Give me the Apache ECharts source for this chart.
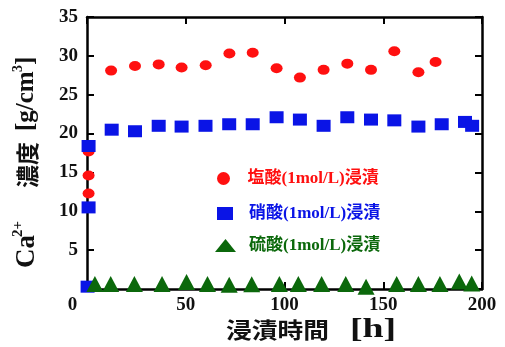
<!DOCTYPE html>
<html><head><meta charset="utf-8">
<script src="https://cdn.jsdelivr.net/npm/echarts@6/dist/echarts.min.js"></script>
<style>html,body{margin:0;padding:0;background:#fff}#c{width:505px;height:347px}</style>
</head><body><div id="c"></div>
<script>
const seriesNames = ['塩酸(1mol/L)浸漬', '硝酸(1mol/L)浸漬', '硫酸(1mol/L)浸漬'];
const xTicks = [0, 50, 100, 150, 200];
const yTicks = [0, 5, 10, 15, 20, 25, 30, 35];

const hclX = [0.8, 0.8, 0.8, 12.2, 24.3, 36.3, 47.9, 60.1, 72.1, 83.9, 96.0, 107.8, 119.8, 131.8, 143.8, 155.6, 167.8, 176.5];
const hclY = [17.7, 14.6, 12.3, 28.1, 28.7, 28.9, 28.5, 28.8, 30.3, 30.4, 28.4, 27.2, 28.2, 29.0, 28.2, 30.6, 27.9, 29.2];

const hno3X = [0.8, 0.8, 0.3, 12.5, 24.3, 36.3, 47.9, 60.0, 72.0, 83.9, 96.0, 107.8, 119.8, 131.8, 143.8, 155.6, 167.8, 179.6, 191.4, 195.0];
const hno3Y = [18.4, 10.5, 0.3, 20.5, 20.3, 21.0, 20.9, 21.0, 21.2, 21.2, 22.1, 21.8, 21.0, 22.1, 21.8, 21.7, 20.9, 21.2, 21.5, 21.0];

const h2so4X = [4, 12, 24, 38, 50.4, 61, 72, 83.4, 97.4, 107, 118.8, 131, 141.3, 156.8, 167.8, 178.7, 188.5, 194.8];
const h2so4Y = [0.65, 0.65, 0.65, 0.65, 0.9, 0.65, 0.55, 0.6, 0.65, 0.65, 0.65, 0.65, 0.3, 0.65, 0.65, 0.65, 0.95, 0.7];

const colors = ['#ff1010', '#0a14e6', '#0b680b'];
const pair = (xs, ys) => xs.map((x, i) => [x, ys[i]]);

const tickFont = () => ({fontFamily: '"Liberation Serif", "Times New Roman", serif', fontWeight: 'bold', fontSize: 19, color: '#111'});
const legendFont = () => ({fontFamily: '"Liberation Serif", "Noto Sans CJK JP", serif', fontWeight: 'bold', fontSize: 17});
const serifB = '"Liberation Serif", serif';
const cjkB = '"Noto Sans CJK JP", sans-serif';

const chart = echarts.init(document.getElementById('c'), null, {renderer: 'canvas'});
chart.setOption({
  animation: false,
  grid: {left: 87, right: 23, top: 17, bottom: 58, containLabel: false},
  xAxis: [
    {type: 'value', min: xTicks[0], max: xTicks[xTicks.length - 1], interval: 50, position: 'bottom',
     axisLine: {show: true, lineStyle: {color: '#000', width: 2.5}},
     axisTick: {inside: true, length: 7, lineStyle: {width: 2, color: '#000'}},
     axisLabel: Object.assign({margin: 7,
       formatter: v => (v === 0 ? '{z|0}' : String(v)),
       rich: {z: Object.assign({padding: [0, 29, 0, 0]}, tickFont())}}, tickFont()),
     splitLine: {show: false}},
    {type: 'value', min: xTicks[0], max: xTicks[xTicks.length - 1], interval: 50, position: 'top',
     axisLine: {show: true, onZero: false, lineStyle: {color: '#000', width: 2.5}},
     axisTick: {inside: true, length: 7, lineStyle: {width: 2, color: '#000'}},
     axisLabel: {show: false}, splitLine: {show: false}}
  ],
  yAxis: [
    {type: 'value', min: yTicks[0], max: yTicks[yTicks.length - 1], interval: 5, position: 'left',
     axisLine: {show: true, lineStyle: {color: '#000', width: 2.5}},
     axisTick: {inside: true, length: 7, lineStyle: {width: 2, color: '#000'}},
     axisLabel: Object.assign({margin: 9, formatter: v => (v === 0 ? '' : String(v))}, tickFont()),
     splitLine: {show: false}},
    {type: 'value', min: yTicks[0], max: yTicks[yTicks.length - 1], interval: 5, position: 'right',
     axisLine: {show: true, onZero: false, lineStyle: {color: '#000', width: 2.5}},
     axisTick: {inside: true, length: 7, lineStyle: {width: 2, color: '#000'}},
     axisLabel: {show: false}, splitLine: {show: false}}
  ],
  legend: [
    {data: [seriesNames[0]], orient: 'vertical', left: 212, top: 165, itemWidth: 16, itemHeight: 13, symbolKeepAspect: false,
     textStyle: Object.assign({color: colors[0], padding: [0, 0, 0, 11]}, legendFont())},
    {data: [seriesNames[1]], orient: 'vertical', left: 212, top: 200, itemWidth: 16, itemHeight: 13, symbolKeepAspect: false,
     textStyle: Object.assign({color: colors[1], padding: [0, 0, 0, 11]}, legendFont())},
    {data: [seriesNames[2]], orient: 'vertical', left: 210, top: 232, itemWidth: 21, itemHeight: 13, symbolKeepAspect: false,
     textStyle: Object.assign({color: colors[2], padding: [0, 0, 0, 8]}, legendFont())}
  ],
  series: [
    {name: seriesNames[0], type: 'scatter', data: pair(hclX, hclY), symbol: 'circle', symbolSize: [12, 10],
     itemStyle: {color: colors[0], opacity: 1}, z: 3},
    {name: seriesNames[1], type: 'scatter', data: pair(hno3X, hno3Y), symbol: 'rect', symbolSize: [14, 12],
     itemStyle: {color: colors[1], opacity: 1}, z: 4},
    {name: seriesNames[2], type: 'scatter', data: pair(h2so4X, h2so4Y), symbol: 'triangle', symbolSize: [17, 16],
     itemStyle: {color: colors[2], opacity: 1}, z: 5}
  ],
  graphic: [
    {type: 'text', x: 226, y: 330, scaleX: 1.17, style: {
      text: '浸漬時間', font: 'bold 22px ' + cjkB, fill: '#111', textAlign: 'left', textVerticalAlign: 'middle'}},
    {type: 'text', x: 350, y: 330, scaleX: 1.4, style: {
      text: '[h]', font: 'bold 27px ' + serifB, fill: '#111', textAlign: 'left', textVerticalAlign: 'middle'}},
    {type: 'group', x: 27, y: 268, rotation: Math.PI / 2, children: [
      {type: 'text', x: 0, y: 0, style: {text: 'Ca', font: 'bold 27px ' + serifB, fill: '#111', textAlign: 'left', textVerticalAlign: 'middle'}},
      {type: 'text', x: 31, y: -9, style: {text: '2+', font: 'bold 15px ' + serifB, fill: '#111', textAlign: 'left', textVerticalAlign: 'middle'}},
      {type: 'text', x: 80, y: 0, style: {text: '濃度', font: 'bold 23px ' + cjkB, fill: '#111', textAlign: 'left', textVerticalAlign: 'middle'}},
      {type: 'text', x: 137, y: 0, style: {text: '[g/cm', font: 'bold 25px ' + serifB, fill: '#111', textAlign: 'left', textVerticalAlign: 'middle'}},
      {type: 'text', x: 196, y: -9, style: {text: '3', font: 'bold 14px ' + serifB, fill: '#111', textAlign: 'left', textVerticalAlign: 'middle'}},
      {type: 'text', x: 203, y: 0, style: {text: ']', font: 'bold 25px ' + serifB, fill: '#111', textAlign: 'left', textVerticalAlign: 'middle'}}
    ]}
  ]
});
</script></body></html>
